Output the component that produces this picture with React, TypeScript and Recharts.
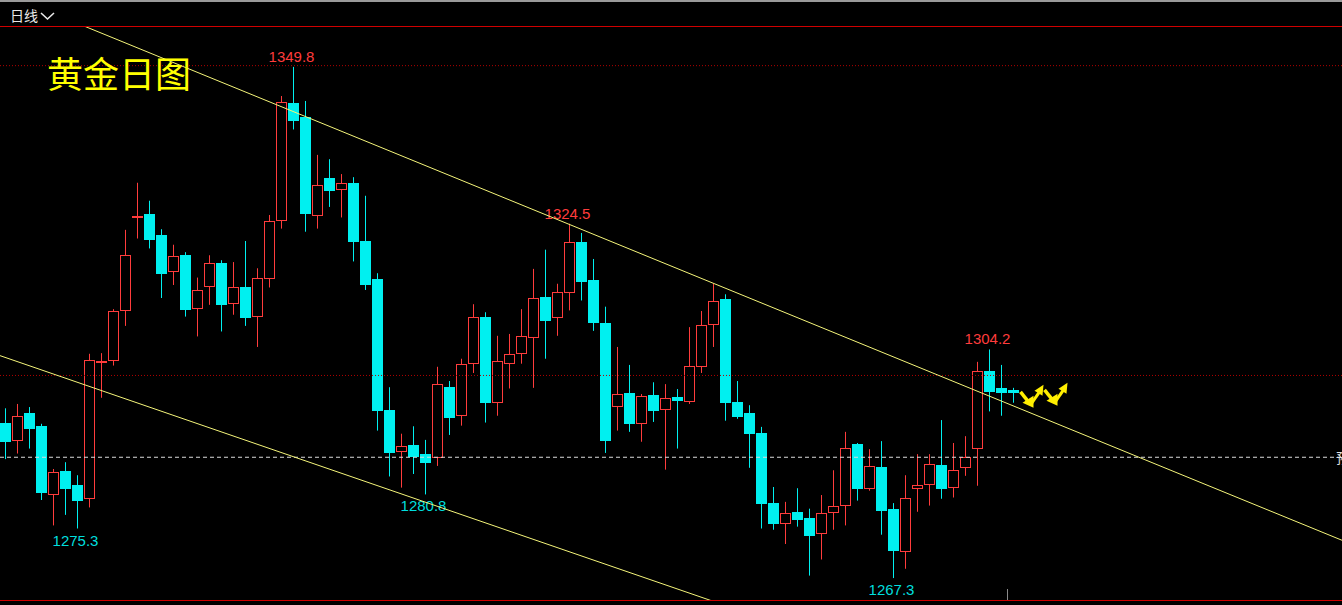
import React from "react";
import { Bar, ComposedChart, ReferenceDot, ReferenceLine, XAxis, YAxis } from "recharts";

// daily gold candles (oldest first)
const OPEN = [
  1292.3, 1289.5, 1293.9, 1291.8, 1280.7, 1284.6, 1282.3, 1280.0, 1302.2, 1302.4,
  1310.4, 1325.4, 1326.1, 1322.7, 1316.7, 1319.4, 1310.8, 1314.2, 1318.2, 1311.5,
  1314.3, 1309.5, 1315.5, 1325.0, 1344.0, 1341.7, 1325.8, 1331.9, 1329.9, 1331.1,
  1321.7, 1315.6, 1294.4, 1287.7, 1288.8, 1287.3, 1286.6, 1298.1, 1293.5, 1301.8,
  1309.4, 1295.5, 1301.9, 1303.5, 1306.0, 1312.7, 1309.2, 1313.3, 1321.5, 1315.4,
  1308.5, 1294.9, 1297.2, 1292.1, 1296.9, 1294.4, 1296.5, 1295.7, 1301.4, 1308.1,
  1312.3, 1295.7, 1293.9, 1290.7, 1279.4, 1276.1, 1278.0, 1277.0, 1274.4, 1277.8,
  1279.0, 1288.9, 1281.7, 1285.2, 1278.5, 1271.5, 1281.6, 1282.3, 1285.6, 1281.8,
  1285.0, 1288.2, 1300.7, 1298.0, 1297.7,
];
const HIGH = [
  1294.7, 1295.4, 1294.9, 1292.2, 1284.9, 1286.0, 1283.9, 1303.5, 1303.6, 1310.7,
  1323.5, 1331.1, 1328.2, 1323.6, 1321.1, 1319.9, 1315.8, 1319.4, 1318.6, 1318.3,
  1321.7, 1317.3, 1325.9, 1345.1, 1349.8, 1344.3, 1335.6, 1334.9, 1332.5, 1332.0,
  1329.0, 1316.5, 1298.1, 1290.6, 1291.8, 1289.6, 1301.4, 1299.1, 1302.7, 1311.5,
  1310.2, 1306.4, 1306.7, 1310.7, 1317.2, 1320.3, 1314.8, 1324.5, 1323.0, 1318.8,
  1311.1, 1304.6, 1301.7, 1297.0, 1298.9, 1298.6, 1297.8, 1307.8, 1310.4, 1314.8,
  1313.1, 1299.1, 1295.2, 1291.7, 1282.0, 1279.6, 1281.8, 1278.5, 1280.7, 1284.7,
  1290.9, 1289.1, 1288.1, 1289.4, 1279.4, 1283.9, 1287.3, 1287.3, 1292.8, 1289.1,
  1290.2, 1302.2, 1304.2, 1301.7, 1298.0,
];
const LOW = [
  1286.5, 1287.4, 1288.2, 1279.9, 1275.8, 1277.5, 1275.3, 1278.7, 1296.4, 1301.6,
  1308.0, 1322.1, 1320.5, 1312.5, 1314.6, 1309.5, 1306.3, 1311.4, 1307.1, 1309.8,
  1308.0, 1304.6, 1314.2, 1323.7, 1339.7, 1323.2, 1323.7, 1327.2, 1325.5, 1318.4,
  1313.8, 1291.1, 1283.7, 1281.9, 1284.1, 1280.8, 1285.4, 1290.4, 1291.9, 1300.4,
  1292.4, 1293.5, 1297.9, 1301.9, 1298.0, 1302.7, 1306.4, 1310.5, 1312.1, 1307.2,
  1287.5, 1291.1, 1290.9, 1289.3, 1292.5, 1284.8, 1288.2, 1295.4, 1300.4, 1304.6,
  1292.7, 1293.0, 1285.1, 1275.3, 1275.1, 1272.8, 1275.6, 1267.7, 1270.3, 1275.1,
  1275.8, 1279.8, 1281.4, 1274.3, 1267.3, 1268.8, 1278.0, 1279.0, 1280.1, 1280.3,
  1283.8, 1282.2, 1294.2, 1293.5, 1295.6,
];
const CLOSE = [
  1289.3, 1293.5, 1291.4, 1281.1, 1284.5, 1281.7, 1279.8, 1302.5, 1302.4, 1310.4,
  1319.4, 1325.7, 1321.9, 1316.4, 1319.2, 1310.5, 1313.8, 1318.2, 1311.4, 1314.2,
  1309.2, 1315.7, 1325.0, 1344.1, 1341.1, 1326.0, 1330.7, 1329.7, 1331.0, 1321.6,
  1314.6, 1294.3, 1287.5, 1288.6, 1286.8, 1285.9, 1298.6, 1293.1, 1301.8, 1309.4,
  1295.6, 1302.3, 1303.4, 1306.4, 1312.5, 1308.8, 1313.4, 1321.5, 1315.1, 1308.4,
  1289.5, 1297.0, 1292.2, 1296.7, 1294.2, 1296.4, 1295.8, 1301.5, 1308.1, 1312.0,
  1295.6, 1293.3, 1290.6, 1279.3, 1276.1, 1277.8, 1276.6, 1274.1, 1277.8, 1278.9,
  1288.3, 1281.6, 1285.4, 1278.2, 1271.6, 1280.2, 1282.3, 1285.7, 1281.6, 1284.7,
  1286.8, 1300.8, 1297.4, 1297.1, 1297.2,
];

// candles whose high / low carries a price tag
const HIGH_MARKS = [25, 48, 83];
const LOW_MARKS = [7, 36, 75];

const GRID_PRICES = [1350, 1300];
const LAST_PRICE = 1286.8;

// channel lines as [candle index, price] end points
const UPPER_TREND = [
  { x: 7.54, y: 1356.4 },
  { x: 112.375, y: 1273.4 },
];
const LOWER_TREND = [
  { x: 0.54, y: 1303.2 },
  { x: 59.9, y: 1263.6 },
];

const Y_DOMAIN = [1263.6, 1356.4];
const X_DOMAIN = [0.5417, 112.375];

const UP = "#ff3c3c";
const DOWN = "#00f0f0";
const TREND = "#f5f57a";
const ARROW = "#ffee00";

const data = OPEN.map((open, k) => ({
  i: k + 1,
  open,
  high: HIGH[k],
  low: LOW[k],
  close: CLOSE[k],
  mark: HIGH_MARKS.includes(k + 1) ? "high" : LOW_MARKS.includes(k + 1) ? "low" : null,
}));

function Candle(props: any) {
  const { x, y, width, height, payload } = props;
  if (!payload || !height) return null;
  const { open, high, low, close, mark } = payload;
  const ppu = height / (high - low);
  const yOf = (v: number) => y + (high - v) * ppu;
  const cx = Math.floor(x + width / 2) + 0.5;
  const top = Math.round(yOf(Math.max(open, close)));
  const bot = Math.round(yOf(Math.min(open, close)));
  const rising = close >= open;
  const bottom = y + height;

  return (
    <g>
      {rising ? (
        <>
          <line x1={cx} x2={cx} y1={y} y2={top} stroke={UP} />
          <line x1={cx} x2={cx} y1={bot} y2={bottom} stroke={UP} />
          <rect x={cx - 5} y={top + 0.5} width={10} height={Math.max(bot - top - 1, 1)} fill="#000" stroke={UP} />
        </>
      ) : (
        <>
          <line x1={cx} x2={cx} y1={y} y2={bottom} stroke={DOWN} />
          <rect x={cx - 5.5} y={top} width={11} height={Math.max(bot - top, 2)} fill={DOWN} />
        </>
      )}
      {mark === "high" && (
        <text x={cx - 2} y={y - 5} textAnchor="middle" fill={UP} fontSize={15} fontFamily="Liberation Sans, Arial">
          {high.toFixed(1)}
        </text>
      )}
      {mark === "low" && (
        <text x={cx - 2} y={bottom + 17} textAnchor="middle" fill="#00dede" fontSize={15} fontFamily="Liberation Sans, Arial">
          {low.toFixed(1)}
        </text>
      )}
    </g>
  );
}

// the two yellow "down then up" arrows after the last candle
function ForecastArrows(props: any) {
  const { cx, cy } = props;
  if (cx == null || cy == null) return null;
  const zig = (dx: number, dy: number) => (
    <g transform={`translate(${cx + dx},${cy + dy})`}>
      <polyline points="0,0 8,10" stroke={ARROW} strokeWidth={3.5} fill="none" />
      <polygon points="2,11 13,4 13,16" fill={ARROW} />
      <polyline points="10,13 19,0" stroke={ARROW} strokeWidth={3} fill="none" />
      <polygon points="14,-1 23,-7 22,4" fill={ARROW} />
    </g>
  );
  return (
    <g>
      {zig(-5, -1)}
      {zig(19, -3)}
    </g>
  );
}

export default function App() {
  return (
    <div style={{ position: "relative", width: 1342, height: 605, background: "#000", overflow: "hidden" }}>
      <style>{"body{margin:0;background:#000;overflow:hidden}"}</style>
      <ComposedChart width={1342} height={605} data={data} margin={{ top: 26, right: 0, bottom: 4, left: 0 }}>
        <XAxis dataKey="i" type="number" domain={X_DOMAIN} allowDataOverflow hide />
        <YAxis type="number" domain={Y_DOMAIN} allowDataOverflow hide />
        {GRID_PRICES.map((p) => (
          <ReferenceLine key={p} y={p} stroke="#b00000" strokeDasharray="1 2" />
        ))}
        <ReferenceLine y={LAST_PRICE} stroke="#dcdcdc" strokeDasharray="4 3" />
        <ReferenceLine segment={UPPER_TREND} stroke={TREND} ifOverflow="hidden" />
        <ReferenceLine segment={LOWER_TREND} stroke={TREND} ifOverflow="hidden" />
        <Bar
          dataKey={(d: any) => [d.low, d.high]}
          barSize={11}
          shape={Candle}
          isAnimationActive={false}
        />
        <ReferenceDot x={86} y={CLOSE[CLOSE.length - 1]} shape={ForecastArrows} ifOverflow="visible" />
      </ComposedChart>
      <svg width={1342} height={605} style={{ position: "absolute", left: 0, top: 0, pointerEvents: "none" }}>
        <rect x={0} y={0} width={1342} height={2} fill="#9a9a9a" />
        <text x={10} y={21} fontSize={14} fill="#e8e8e8" fontFamily="Noto Sans CJK SC">
          日线
        </text>
        <polyline points="41,13 47.5,19 54,13" stroke="#e8e8e8" strokeWidth={1.6} fill="none" />
        <rect x={0} y={26} width={1342} height={1} fill="#d00000" />
        <rect x={0} y={600} width={1342} height={1} fill="#d00000" />
        <text x={47} y={88} fontSize={36} fill="#ffff00" fontFamily="Noto Sans CJK SC">
          黄金日图
        </text>
        <text x={1336} y={463} fontSize={14} fill="#e0e0e0" fontFamily="Noto Sans CJK SC">
          预
        </text>
        <rect x={1007} y={589} width={1} height={11} fill="#8a8a8a" />
      </svg>
    </div>
  );
}
